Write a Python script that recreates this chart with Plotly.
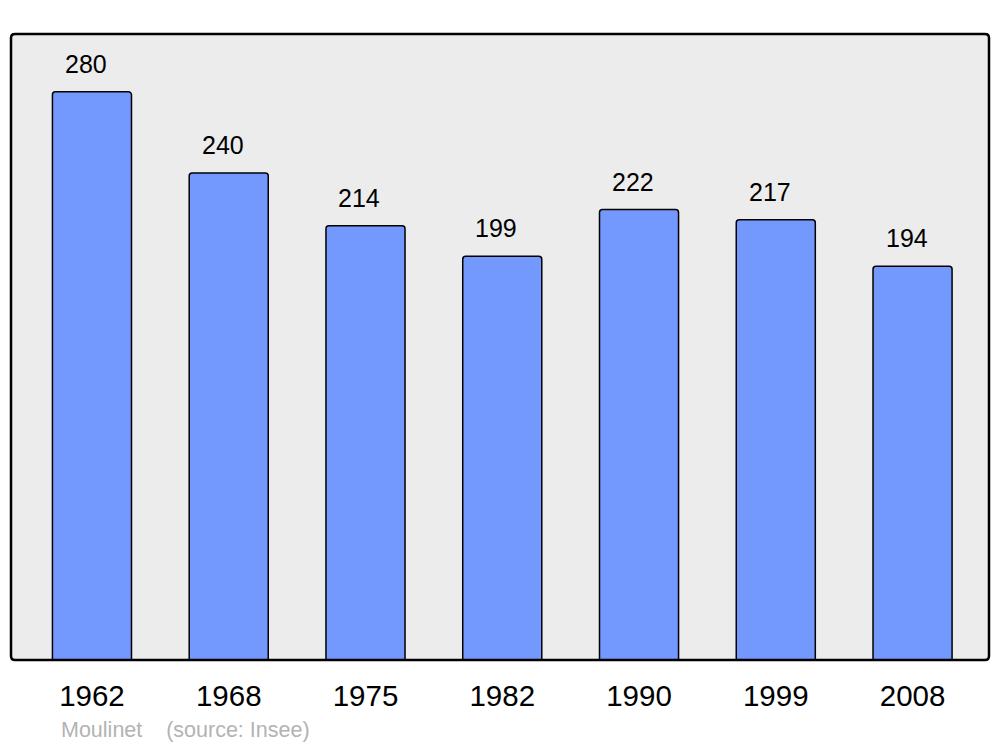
import plotly.graph_objects as go

years = ["1962", "1968", "1975", "1982", "1990", "1999", "2008"]
population = [280, 240, 214, 199, 222, 217, 194]

positions = list(range(len(years)))

fig = go.Figure()
fig.add_trace(go.Bar(
    x=positions, y=population, width=0.578,
    marker=dict(color="#7399ff", line=dict(color="#000000", width=1.5), cornerradius=3),
    hoverinfo="skip",
))

for i, v in zip(positions, population):
    fig.add_annotation(x=i, y=v, text=str(v), showarrow=False, yanchor="middle",
                       yshift=28, xshift=-6,
                       font=dict(size=25, color="#000000", family="Liberation Sans, Arial, sans-serif"))

L, R, T, B = 11, 11, 34, 87
W, H = 1000, 747
pw, ph = W - L - R, H - T - B
rx, ry = 4 / pw, 4 / ph
path = (f"M {rx},0 L {1-rx},0 Q 1,0 1,{ry} L 1,{1-ry} Q 1,1 {1-rx},1 "
        f"L {rx},1 Q 0,1 0,{1-ry} L 0,{ry} Q 0,0 {rx},0 Z")
fig.add_shape(type="path", xref="paper", yref="paper", path=path,
              line=dict(color="#000000", width=2.5), layer="above")

fig.add_annotation(x=0, y=0, xref="paper", yref="paper", xanchor="left", yanchor="middle",
                   xshift=48, yshift=-70, text="Moulinet&nbsp;&nbsp;&nbsp;&nbsp;(source: Insee)", showarrow=False,
                   font=dict(size=21.5, color="#b3b3b3", family="Liberation Sans, Arial, sans-serif"))

fig.update_layout(
    width=W, height=H,
    margin=dict(l=L, r=R, t=T, b=B),
    paper_bgcolor="#ffffff", plot_bgcolor="#ececec",
    showlegend=False,
    font=dict(family="Liberation Sans, Arial, sans-serif", color="#000000"),
    xaxis=dict(range=[-0.592, 6.559], tickvals=positions, ticktext=years, showgrid=False,
               zeroline=False, showline=False, ticks="", ticklabelstandoff=15,
               tickfont=dict(size=29.5), fixedrange=True),
    yaxis=dict(range=[0, 308.5], showgrid=False, zeroline=False, showline=False,
               showticklabels=False, ticks="", fixedrange=True),
)

fig.write_html("out.html", config={"displayModeBar": False},
               post_script="document.body.style.margin='0';document.body.style.overflow='hidden';")
